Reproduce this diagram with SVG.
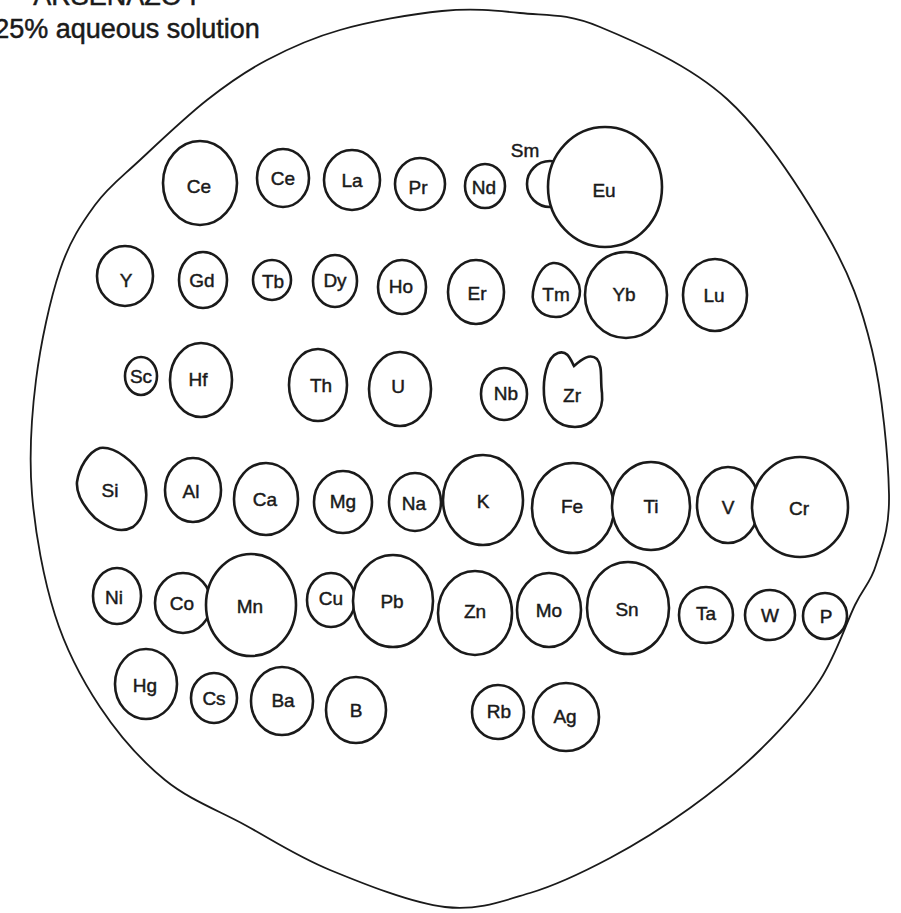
<svg xmlns="http://www.w3.org/2000/svg" width="901" height="913" viewBox="0 0 901 913">
<style>
.n{fill:#fff;stroke:#1a1a1a;stroke-width:2.6}
.o{fill:none;stroke:#1a1a1a;stroke-width:1.8}
.t{font-family:"Liberation Sans",Arial,sans-serif;font-size:19px;fill:#1a1a1a;stroke:#1a1a1a;stroke-width:0.45;text-anchor:middle}
.h{font-family:"Liberation Sans",Arial,sans-serif;font-size:27px;fill:#1a1a1a;stroke:#1a1a1a;stroke-width:0.5;text-anchor:middle}
</style>
<rect width="901" height="913" fill="#fff"/>
<g id="title">
<text class="h" x="115" y="5">ARSENAZO I</text>
<text class="h" x="127" y="38">25% aqueous solution</text>
</g>
<g id="outline">
<path class="o" d="M442 11 C472 8.2,493.7 10.3,520 13 C546.3 15.7,565.5 12.7,600 27 C634.5 41.3,689.3 64.7,727 99 C764.7 133.3,801.8 191.2,826 233 C850.2 274.8,861.5 306.5,872 350 C882.5 393.5,888.3 458.2,889 494 C889.7 529.8,881.7 546.5,876 565 C870.3 583.5,864.3 585.8,855 605 C845.7 624.2,835.8 655.8,820 680 C804.2 704.2,781.7 728.7,760 750 C738.3 771.3,715 790,690 808 C665 826,636.7 843.8,610 858 C583.3 872.2,557.5 884.8,530 893 C502.5 901.2,478.3 910.8,445 907 C411.7 903.2,363.3 883.7,330 870 C296.7 856.3,272.5 840,245 825 C217.5 810,189.2 799.7,165 780 C140.8 760.3,118.3 734.5,100 707 C81.7 679.5,66.3 650.5,55 615 C43.7 579.5,35.2 533.2,32 494 C28.8 454.8,31.3 417.3,36 380 C40.7 342.7,50.2 299.2,60 270 C69.8 240.8,81.7 223.3,95 205 C108.3 186.7,121.3 177.5,140 160 C158.7 142.5,185.8 116.7,207 100 C228.2 83.3,244.8 71.7,267 60 C289.2 48.3,310.8 38.2,340 30 C369.2 21.8,412 13.8,442 11 Z"/>
</g>
<g id="connectors"></g>
<g id="Ce1"><ellipse class="n" cx="200" cy="183" rx="37" ry="42"/><text class="t" x="199" y="193">Ce</text></g>
<g id="Ce2"><ellipse class="n" cx="283" cy="178" rx="26" ry="29"/><text class="t" x="283" y="185">Ce</text></g>
<g id="La"><ellipse class="n" cx="352" cy="180" rx="28" ry="30"/><text class="t" x="352" y="187">La</text></g>
<g id="Pr"><ellipse class="n" cx="420" cy="184" rx="25" ry="26"/><text class="t" x="418" y="194">Pr</text></g>
<g id="Nd"><ellipse class="n" cx="485" cy="186" rx="20" ry="22"/><text class="t" x="484" y="194">Nd</text></g>
<g id="Sm"><circle class="n" cx="550" cy="184" r="23"/><text class="t" x="525" y="157">Sm</text></g>
<g id="Eu"><ellipse class="n" cx="605" cy="187" rx="57" ry="60"/><text class="t" x="604" y="197">Eu</text></g>
<g id="Y"><ellipse class="n" cx="125" cy="276" rx="28" ry="30"/><text class="t" x="126" y="287">Y</text></g>
<g id="Gd"><ellipse class="n" cx="203" cy="280" rx="24" ry="28"/><text class="t" x="202" y="287">Gd</text></g>
<g id="Tb"><ellipse class="n" cx="272" cy="280" rx="19" ry="20"/><text class="t" x="273" y="288">Tb</text></g>
<g id="Dy"><ellipse class="n" cx="335" cy="281" rx="22" ry="26"/><text class="t" x="335" y="287">Dy</text></g>
<g id="Ho"><ellipse class="n" cx="402" cy="287" rx="24" ry="27"/><text class="t" x="401" y="293">Ho</text></g>
<g id="Er"><ellipse class="n" cx="476" cy="292" rx="28" ry="32"/><text class="t" x="477" y="300">Er</text></g>
<g id="Tm"><path class="n" d="M553 263 C565 262,575 275,579 285 C583 300,572 317,556 317 C540 317,531 305,533 292 C535 278,543 264,553 263 Z"/><text class="t" x="556" y="301">Tm</text></g>
<g id="Yb"><ellipse class="n" cx="626" cy="295" rx="41" ry="43"/><text class="t" x="624" y="301">Yb</text></g>
<g id="Lu"><ellipse class="n" cx="715" cy="295" rx="32" ry="36"/><text class="t" x="714" y="302">Lu</text></g>
<g id="Sc"><ellipse class="n" cx="141" cy="376" rx="16" ry="19"/><text class="t" x="141" y="383">Sc</text></g>
<g id="Hf"><ellipse class="n" cx="201" cy="380" rx="31" ry="37"/><text class="t" x="198" y="386">Hf</text></g>
<g id="Th"><ellipse class="n" cx="318" cy="385" rx="29" ry="36"/><text class="t" x="321" y="392">Th</text></g>
<g id="U"><ellipse class="n" cx="400" cy="389" rx="31" ry="37"/><text class="t" x="398" y="393">U</text></g>
<g id="Nb"><ellipse class="n" cx="504" cy="394" rx="23" ry="26"/><text class="t" x="506" y="400">Nb</text></g>
<g id="Zr"><path class="n" d="M574 366 C570 358,567 350,558 353 C546 357,543 380,544 395 C545 415,558 427,575 427 C592 427,604 412,602 393 C600 380,603 366,597 359 C590 353,582 359,574 366 Z"/><text class="t" x="572" y="402">Zr</text></g>
<g id="Si"><path class="n" d="M100 448 C115 446,135 462,143 478 C150 495,145 518,133 527 C120 534,108 528,95 518 C85 508,76 495,77 482 C79 468,88 452,100 448 Z"/><text class="t" x="110" y="497">Si</text></g>
<g id="Al"><ellipse class="n" cx="193" cy="490" rx="28" ry="32"/><text class="t" x="191" y="498">Al</text></g>
<g id="Ca"><ellipse class="n" cx="266" cy="499" rx="32" ry="36"/><text class="t" x="265" y="506">Ca</text></g>
<g id="Mg"><ellipse class="n" cx="343" cy="502" rx="29" ry="31"/><text class="t" x="343" y="508">Mg</text></g>
<g id="Na"><ellipse class="n" cx="415" cy="502" rx="26" ry="29"/><text class="t" x="414" y="510">Na</text></g>
<g id="K"><ellipse class="n" cx="483" cy="500" rx="40" ry="45"/><text class="t" x="483" y="508">K</text></g>
<g id="Fe"><ellipse class="n" cx="573" cy="508" rx="41" ry="45"/><text class="t" x="572" y="513">Fe</text></g>
<g id="Ti"><ellipse class="n" cx="651" cy="506" rx="39" ry="44"/><text class="t" x="651" y="513">Ti</text></g>
<g id="V"><ellipse class="n" cx="728" cy="505" rx="31" ry="38"/><text class="t" x="728" y="514">V</text></g>
<g id="Cr"><ellipse class="n" cx="800" cy="507" rx="48" ry="50"/><text class="t" x="799" y="515">Cr</text></g>
<g id="Ni"><ellipse class="n" cx="117" cy="596" rx="24" ry="28"/><text class="t" x="114" y="604">Ni</text></g>
<g id="Co"><ellipse class="n" cx="183" cy="603" rx="28" ry="30"/><text class="t" x="182" y="610">Co</text></g>
<g id="Mn"><ellipse class="n" cx="251" cy="605" rx="45" ry="51"/><text class="t" x="250" y="613">Mn</text></g>
<g id="Cu"><ellipse class="n" cx="331" cy="600" rx="24" ry="27"/><text class="t" x="331" y="605">Cu</text></g>
<g id="Pb"><ellipse class="n" cx="393" cy="601" rx="40" ry="46"/><text class="t" x="392" y="608">Pb</text></g>
<g id="Zn"><ellipse class="n" cx="475" cy="613" rx="37" ry="42"/><text class="t" x="475" y="618">Zn</text></g>
<g id="Mo"><ellipse class="n" cx="549" cy="610" rx="32" ry="37"/><text class="t" x="549" y="617">Mo</text></g>
<g id="Sn"><ellipse class="n" cx="628" cy="608" rx="41" ry="46"/><text class="t" x="627" y="616">Sn</text></g>
<g id="Ta"><ellipse class="n" cx="706" cy="615" rx="27" ry="28"/><text class="t" x="706" y="620">Ta</text></g>
<g id="W"><ellipse class="n" cx="770" cy="615" rx="25" ry="25"/><text class="t" x="770" y="622">W</text></g>
<g id="P"><ellipse class="n" cx="825" cy="616" rx="22" ry="23"/><text class="t" x="826" y="623">P</text></g>
<g id="Hg"><ellipse class="n" cx="146" cy="684" rx="31" ry="35"/><text class="t" x="145" y="692">Hg</text></g>
<g id="Cs"><ellipse class="n" cx="214" cy="698" rx="23" ry="25"/><text class="t" x="214" y="705">Cs</text></g>
<g id="Ba"><ellipse class="n" cx="282" cy="701" rx="31" ry="34"/><text class="t" x="283" y="707">Ba</text></g>
<g id="B"><ellipse class="n" cx="356" cy="710" rx="30" ry="33"/><text class="t" x="356" y="717">B</text></g>
<g id="Rb"><ellipse class="n" cx="498" cy="712" rx="26" ry="27"/><text class="t" x="499" y="718">Rb</text></g>
<g id="Ag"><ellipse class="n" cx="566" cy="717" rx="33" ry="34"/><text class="t" x="565" y="723">Ag</text></g>
</svg>
